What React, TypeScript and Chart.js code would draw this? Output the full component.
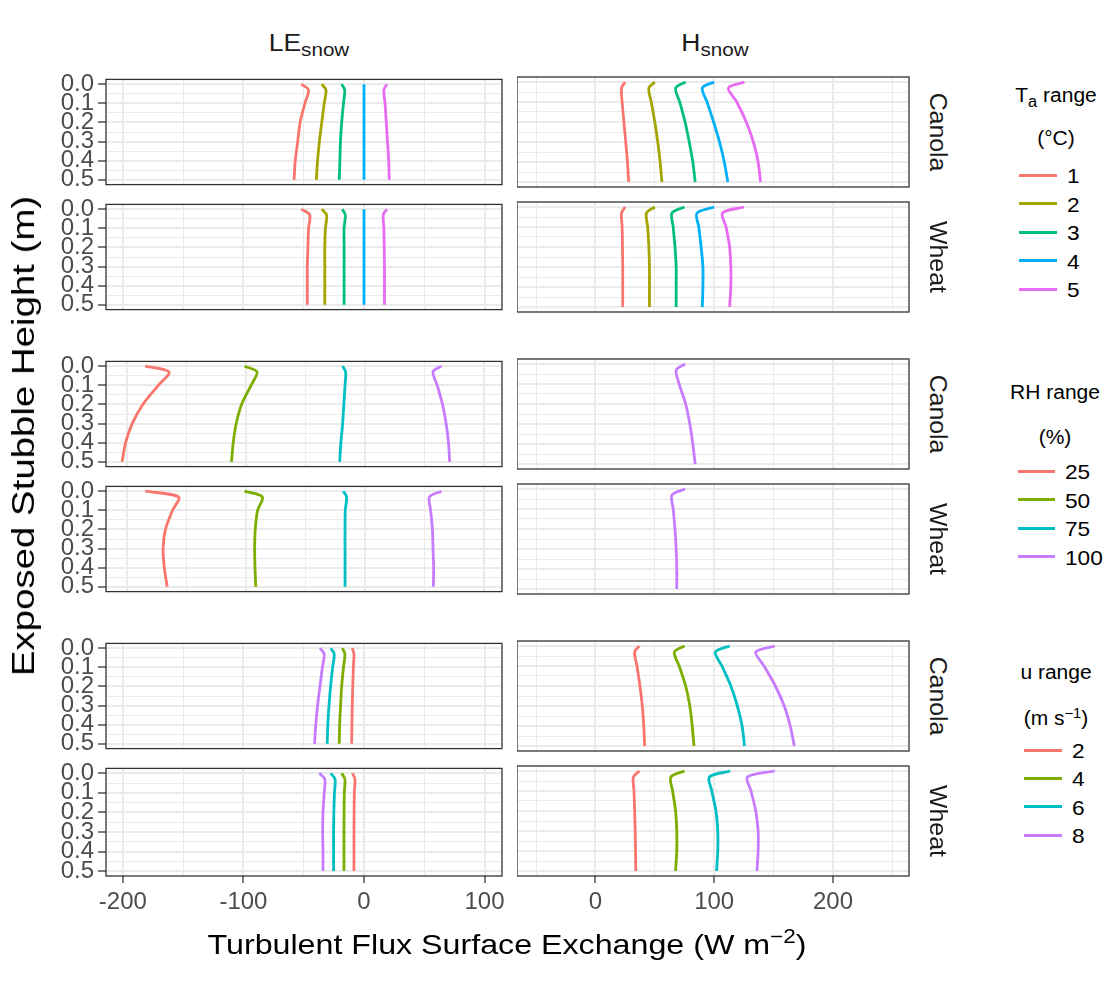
import React, { useEffect, useRef } from "react";
import { Chart, registerables } from "chart.js";
Chart.register(...registerables);

// ---------------- data ----------------
const heights = [0, 0.03, 0.1, 0.2, 0.3, 0.4, 0.5];
const yTicks = [0, 0.05, 0.1, 0.15, 0.2, 0.25, 0.3, 0.35, 0.4, 0.45, 0.5];
const yMajor = [0, 0.1, 0.2, 0.3, 0.4, 0.5];
const leTicks = [-200, -150, -100, -50, 0, 50, 100];
const leMajor = [-200, -100, 0, 100];
const hTicks = [-50, 0, 50, 100, 150, 200, 250];
const hMajor = [0, 100, 200];

const taLevels = ["1", "2", "3", "4", "5"];
const rhLevels = ["25", "50", "75", "100"];
const uLevels = ["2", "4", "6", "8"];
const taColors = ["#F8766D", "#A3A500", "#00BF7D", "#00B0F6", "#E76BF3"];
const quadColors = ["#F8766D", "#7CAE00", "#00BFC4", "#C77CFF"];

// Air temperature group
const leTaCanola = [
  [-52, -46, -49, -53, -55, -57, -58],
  [-35, -31.5, -33, -35, -37, -38.5, -39.5],
  [-18.5, -16, -17, -18.5, -19.5, -20, -20.5],
  [0, 0, 0, 0, 0, 0, 0],
  [19, 16.5, 17.5, 18.5, 19.5, 20.5, 21],
];
const leTaWheat = [
  [-52, -45, -46, -46.5, -47, -47, -47],
  [-35, -31, -32, -32.5, -32.5, -32.5, -32.5],
  [-18, -15.5, -16.5, -16.5, -16.5, -16.5, -16.5],
  [0, 0, 0, 0, 0, 0, 0],
  [19, 16, 16.5, 16.8, 17, 17, 17],
];
const hTaCanola = [
  [25, 22, 22.5, 24, 25.5, 27, 28],
  [50, 45, 47, 50, 52.5, 54.5, 56],
  [76, 67.5, 71, 75.5, 79, 82, 84],
  [100, 90, 94, 99.5, 104.5, 108.5, 111.5],
  [125.5, 112, 119, 127, 133, 137, 139],
];
const hTaWheat = [
  [25, 22, 22.5, 22.8, 23, 23, 23],
  [50, 43, 44, 45, 45.5, 45.5, 45.5],
  [75, 64.5, 65.5, 67, 68, 68, 68],
  [100, 85.5, 87, 89, 90.5, 90.5, 90],
  [125, 107, 110, 113, 114, 114, 113],
];

// Relative humidity group
const leRhCanola = [
  [-185, -165, -174, -187, -196, -201.5, -204.5],
  [-101.5, -91, -96, -104, -108.5, -111, -112.5],
  [-19, -16.5, -17, -18, -19, -20.5, -21.5],
  [64, 57, 60.5, 65, 68, 70, 71],
];
const leRhWheat = [
  [-185, -157, -162, -168, -170, -169, -166.5],
  [-101.5, -86.5, -90.5, -92.5, -93, -92.7, -92],
  [-18.5, -15.7, -16.8, -17, -17, -17, -17],
  [64, 54, 55, 56.5, 57, 57.5, 57.3],
];
const hRhCanola = [null, null, null, [75.5, 68, 70.5, 76, 79.5, 82, 84]];
const hRhWheat = [null, null, null, [75.5, 64.5, 65.5, 67, 68, 68.5, 68.5]];

// Wind speed group
const leUCanola = [
  [-9.7, -8.3, -8.8, -9.3, -9.7, -10, -10.2],
  [-18, -15.8, -17, -18.5, -19.4, -20.2, -20.5],
  [-27.7, -24.7, -26, -27.7, -29, -30, -30.5],
  [-36.5, -33, -34.5, -36.5, -38.5, -40, -41],
];
const leUWheat = [
  [-9.5, -7.5, -8, -8.2, -8.3, -8.3, -8.3],
  [-18.5, -15.8, -16.3, -16.5, -16.6, -16.6, -16.6],
  [-27.5, -24, -24.5, -25, -25.2, -25.2, -25.2],
  [-37, -32.5, -33, -34, -34.3, -34, -34],
];
const hUCanola = [
  [37, 33, 35, 37.5, 39.5, 40.7, 41.5],
  [75, 66.5, 70.5, 76, 79.5, 81.5, 83],
  [113, 101, 106.5, 114, 119.5, 123.5, 125.5],
  [151, 135, 142, 151.5, 159, 164, 167.5],
];
const hUWheat = [
  [37, 32, 32.5, 33, 33.5, 33.8, 34],
  [75, 63.5, 65, 67.5, 68.5, 68.5, 67.5],
  [113.5, 96, 98, 101.5, 103, 103, 102],
  [151, 128, 131, 135, 137, 137, 136],
];

// ---------------- layout ----------------
const FONT = "'Liberation Sans', Arial, Helvetica, sans-serif";
const LE_LEFT = 106;
const LE_W = 396;
const H_LEFT = 517;
const H_W = 392;
const PANEL_H = 110;
const rowTops = [77, 202, 359, 484, 641, 766];
const leRanges = [
  [-214, 114.5],
  [-218, 115],
  [-214, 114.5],
];
const hRange = [-66, 264];
const PAD_T = 16;
const PAD_R = 14;
const Y_AXIS_W = 100;
const X_AXIS_H = 52;

const borderPlugin = {
  id: "panelBorder",
  afterDraw(chart: any) {
    const { ctx, chartArea } = chart;
    ctx.save();
    ctx.strokeStyle = "#333333";
    ctx.lineWidth = 1.3;
    ctx.strokeRect(
      chartArea.left,
      chartArea.top,
      chartArea.right - chartArea.left,
      chartArea.bottom - chartArea.top
    );
    ctx.restore();
  },
};

type PanelProps = {
  left: number;
  top: number;
  width: number;
  xMin: number;
  xMax: number;
  xTicks: number[];
  xMajor: number[];
  series: (number[] | null)[];
  colors: string[];
  showY: boolean;
  showX: boolean;
};

function Panel(p: PanelProps) {
  const ref = useRef<HTMLCanvasElement>(null);
  const padL = p.showY ? Y_AXIS_W : 0;
  const padB = p.showX ? X_AXIS_H : PAD_T;
  const cw = padL + p.width + PAD_R;
  const ch = PAD_T + PANEL_H + padB;

  useEffect(() => {
    if (!ref.current) return;
    const datasets = p.series
      .map((vals, i) =>
        vals
          ? {
              data: vals.map((v, k) => ({ x: v, y: heights[k] })),
              borderColor: p.colors[i],
              backgroundColor: p.colors[i],
              borderWidth: 2.8,
              pointRadius: 0,
              showLine: true,
              tension: 0.3,
              fill: false,
            }
          : null
      )
      .filter(Boolean) as any[];

    const chart = new Chart(ref.current, {
      type: "scatter",
      data: { datasets },
      plugins: [borderPlugin],
      options: {
        animation: false,
        responsive: false,
        maintainAspectRatio: false,
        events: [],
        layout: {
          padding: { top: PAD_T, right: PAD_R, left: 0, bottom: p.showX ? 0 : PAD_T },
        },
        plugins: { legend: { display: false }, tooltip: { enabled: false } },
        scales: {
          x: {
            type: "linear",
            min: p.xMin,
            max: p.xMax,
            afterBuildTicks: (s: any) => {
              s.ticks = p.xTicks.map((v) => ({ value: v }));
            },
            afterFit: (s: any) => {
              s.height = p.showX ? X_AXIS_H : 0;
            },
            border: { display: false },
            grid: {
              color: "#EBEBEB",
              lineWidth: (c: any) => (p.xMajor.includes(c.tick?.value) ? 2 : 1),
              drawTicks: p.showX,
              tickLength: 7,
              tickWidth: 1.3,
              tickColor: (c: any) =>
                p.xMajor.includes(c.tick?.value) ? "#333333" : "rgba(0,0,0,0)",
            },
            ticks: {
              display: p.showX,
              autoSkip: false,
              maxRotation: 0,
              padding: 5,
              color: "#4D4D4D",
              font: { family: FONT, size: 24 },
              callback: (v: any) => (p.xMajor.includes(v) ? String(v) : ""),
            },
          },
          y: {
            type: "linear",
            reverse: true,
            min: -0.025,
            max: 0.525,
            afterBuildTicks: (s: any) => {
              s.ticks = yTicks.map((v) => ({ value: v }));
            },
            afterFit: (s: any) => {
              s.width = p.showY ? Y_AXIS_W : 0;
            },
            border: { display: false },
            grid: {
              color: "#EBEBEB",
              lineWidth: (c: any) => (yMajor.includes(c.tick?.value) ? 2 : 1),
              drawTicks: p.showY,
              tickLength: 8,
              tickWidth: 1.3,
              tickColor: (c: any) =>
                yMajor.includes(c.tick?.value) ? "#333333" : "rgba(0,0,0,0)",
            },
            ticks: {
              display: p.showY,
              autoSkip: false,
              padding: 4,
              color: "#4D4D4D",
              font: { family: FONT, size: 24 },
              callback: (v: any) => (yMajor.includes(v) ? Number(v).toFixed(1) : ""),
            },
          },
        },
      } as any,
    });
    return () => chart.destroy();
  }, []);

  return (
    <canvas
      ref={ref}
      width={cw}
      height={ch}
      style={{
        position: "absolute",
        left: p.left - padL,
        top: p.top - PAD_T,
        width: cw,
        height: ch,
      }}
    />
  );
}

function Txt(props: {
  x: number;
  y: number;
  size: number;
  color?: string;
  rotate?: number;
  stretch?: number;
  vertical?: boolean;
  children: React.ReactNode;
}) {
  const s = props.stretch || 1;
  const scale = props.vertical ? `scaleY(${s})` : `scaleX(${s})`;
  return (
    <div
      style={{
        position: "absolute",
        left: props.x,
        top: props.y,
        transform: `translate(-50%, -50%)${props.rotate ? ` rotate(${props.rotate}deg)` : ""} ${scale}`,
        fontFamily: FONT,
        fontSize: props.size,
        color: props.color || "#000000",
        whiteSpace: "nowrap",
        lineHeight: 1,
        writingMode: props.vertical ? ("vertical-rl" as any) : undefined,
      }}
    >
      {props.children}
    </div>
  );
}

function Legend(props: {
  cx: number;
  titleY: number;
  subY: number;
  title: React.ReactNode;
  sub: React.ReactNode;
  firstY: number;
  step: number;
  lineX1: number;
  lineX2: number;
  labelX: number;
  labels: string[];
  colors: string[];
}) {
  return (
    <>
      <Txt x={props.cx} y={props.titleY} size={20} stretch={1.05}>
        {props.title}
      </Txt>
      <Txt x={props.cx} y={props.subY} size={20} stretch={1.05}>
        {props.sub}
      </Txt>
      {props.labels.map((lab, i) => {
        const y = props.firstY + i * props.step;
        return (
          <React.Fragment key={lab}>
            <div
              style={{
                position: "absolute",
                left: props.lineX1,
                top: y - 1.5,
                width: props.lineX2 - props.lineX1,
                height: 3,
                background: props.colors[i],
              }}
            />
            <div
              style={{
                position: "absolute",
                left: props.labelX,
                top: y,
                transform: "translateY(-50%) scaleX(1.08)",
                transformOrigin: "left center",
                fontFamily: FONT,
                fontSize: 21,
                lineHeight: 1,
                color: "#000000",
                whiteSpace: "nowrap",
              }}
            >
              {lab}
            </div>
          </React.Fragment>
        );
      })}
    </>
  );
}

const subStyle: React.CSSProperties = { fontSize: "0.78em", verticalAlign: "-0.3em" };
const supStyle: React.CSSProperties = { fontSize: "0.7em", verticalAlign: "0.55em" };

export default function App() {
  const groups = [
    { le: [leTaCanola, leTaWheat], h: [hTaCanola, hTaWheat], colors: taColors },
    { le: [leRhCanola, leRhWheat], h: [hRhCanola, hRhWheat], colors: quadColors },
    { le: [leUCanola, leUWheat], h: [hUCanola, hUWheat], colors: quadColors },
  ];
  const crops = ["Canola", "Wheat"];
  const panels: React.ReactNode[] = [];
  groups.forEach((g, gi) => {
    [0, 1].forEach((ri) => {
      const rowIdx = gi * 2 + ri;
      const top = rowTops[rowIdx];
      const isBottom = rowIdx === rowTops.length - 1;
      panels.push(
        <Panel
          key={`le-${rowIdx}`}
          left={LE_LEFT}
          top={top}
          width={LE_W}
          xMin={leRanges[gi][0]}
          xMax={leRanges[gi][1]}
          xTicks={leTicks}
          xMajor={leMajor}
          series={g.le[ri]}
          colors={g.colors}
          showY={true}
          showX={isBottom}
        />
      );
      panels.push(
        <Panel
          key={`h-${rowIdx}`}
          left={H_LEFT}
          top={top}
          width={H_W}
          xMin={hRange[0]}
          xMax={hRange[1]}
          xTicks={hTicks}
          xMajor={hMajor}
          series={g.h[ri]}
          colors={g.colors}
          showY={false}
          showX={isBottom}
        />
      );
      panels.push(
        <Txt
          key={`s-${rowIdx}`}
          x={937}
          y={top + PANEL_H / 2}
          size={23}
          stretch={1.08}
          color="#1A1A1A"
          vertical
        >
          {crops[ri]}
        </Txt>
      );
    });
  });

  return (
    <div
      style={{
        position: "absolute",
        left: 0,
        top: 0,
        width: 1107,
        height: 986,
        background: "#FFFFFF",
        overflow: "hidden",
      }}
    >
      <Txt x={309} y={46} size={23} stretch={1.15} color="#1A1A1A">
        LE<span style={subStyle}>snow</span>
      </Txt>
      <Txt x={715} y={46} size={23} stretch={1.15} color="#1A1A1A">
        H<span style={subStyle}>snow</span>
      </Txt>
      {panels}
      <Txt x={23} y={436} size={32} rotate={-90} stretch={1.2}>
        Exposed Stubble Height (m)
      </Txt>
      <Txt x={507} y={943} size={28} stretch={1.15}>
        Turbulent Flux Surface Exchange (W m<span style={supStyle}>−2</span>)
      </Txt>
      <Legend
        cx={1056}
        titleY={97}
        subY={138}
        title={
          <>
            T<span style={subStyle}>a</span> range
          </>
        }
        sub="(°C)"
        firstY={175}
        step={28.5}
        lineX1={1019}
        lineX2={1057}
        labelX={1067}
        labels={taLevels}
        colors={taColors}
      />
      <Legend
        cx={1055}
        titleY={392}
        subY={437}
        title="RH range"
        sub="(%)"
        firstY={471}
        step={28.6}
        lineX1={1018}
        lineX2={1055}
        labelX={1065}
        labels={rhLevels}
        colors={quadColors}
      />
      <Legend
        cx={1056}
        titleY={672}
        subY={717}
        title="u range"
        sub={
          <>
            (m s<span style={supStyle}>−1</span>)
          </>
        }
        firstY={750}
        step={28.4}
        lineX1={1024}
        lineX2={1062}
        labelX={1072}
        labels={uLevels}
        colors={quadColors}
      />
    </div>
  );
}
